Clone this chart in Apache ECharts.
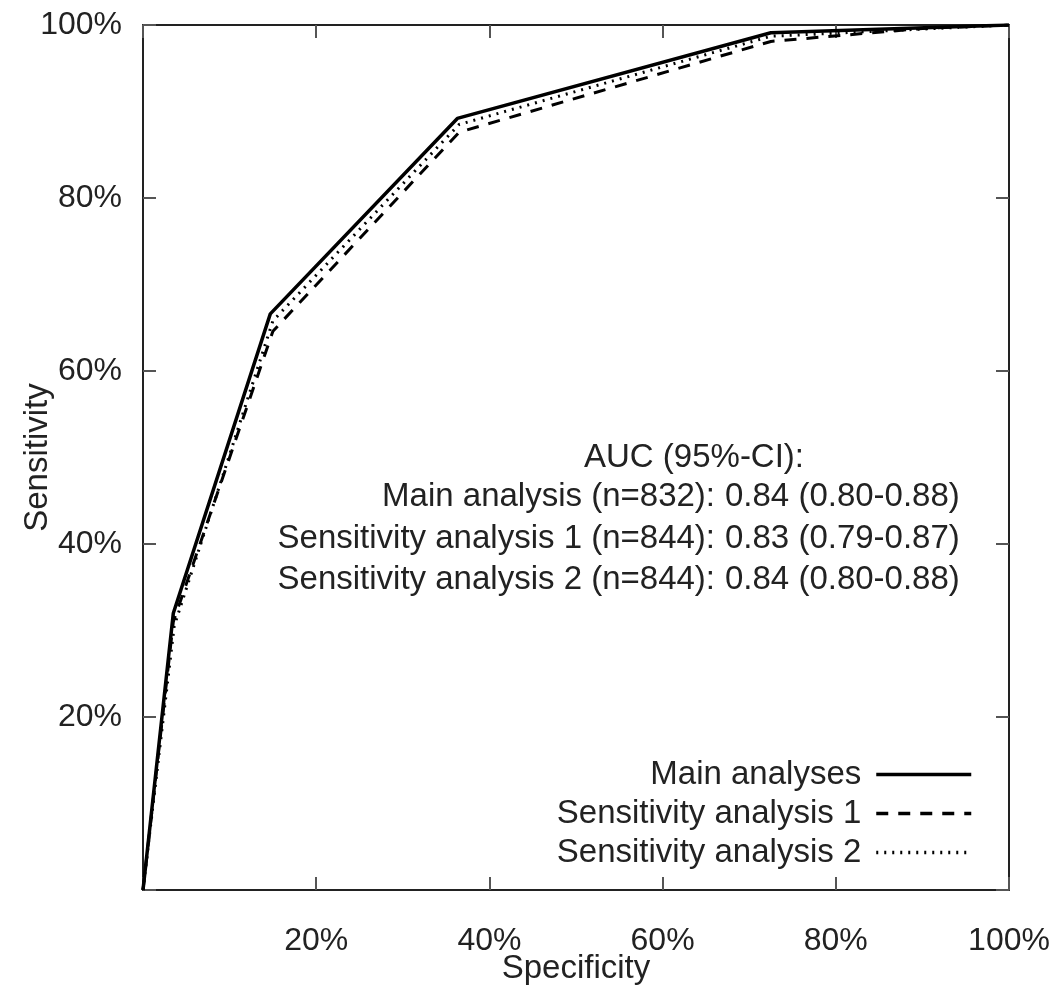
<!DOCTYPE html>
<html lang="en">
<head>
  <meta charset="UTF-8">
  <title>ROC</title>
  <style>
    html, body { margin: 0; padding: 0; background: #fff; }
  </style>
</head>
<body>
  <div id="main" style="width: 1053px;height:986px;"></div>
  <script src="https://cdn.jsdelivr.net/npm/echarts@6/dist/echarts.min.js"></script>
  <script type="text/javascript">
    // ROC curves: [specificity %, sensitivity %]
    var seriesNames = ['Main analyses', 'Sensitivity analysis 1', 'Sensitivity analysis 2'];
    var mainData = [[0, 0], [3.5, 32], [14.7, 66.6], [36.3, 89.2], [72.5, 99.1], [100, 100]];
    var sens1Data = [[0, 0], [3.5, 31], [15, 64.6], [36.5, 87.6], [72.5, 98.1], [90, 99.6], [100, 100]];
    var sens2Data = [[0, 0], [3.6, 30.5], [15, 65.8], [36.5, 88.5], [72.5, 98.7], [100, 100]];

    var aucHeader = 'AUC (95%-CI):';
    var aucLabels = ['Main analysis (n=832):', 'Sensitivity analysis 1 (n=844):', 'Sensitivity analysis 2 (n=844):'];
    var aucValues = ['0.84 (0.80-0.88)', '0.83 (0.79-0.87)', '0.84 (0.80-0.88)'];

    var font = 'Liberation Sans';
    var txtColor = '#222';
    var fs = 33;   // legend, names, AUC block
    var tfs = 32;  // tick labels

    var myChart = echarts.init(document.getElementById('main'));

    function pct(v) {
      return v === 0 ? '' : v + '%';
    }

    function frameAxis() {
      return { onZero: false, lineStyle: { color: '#222', width: 2 } };
    }
    function tickStyle() {
      return { inside: true, length: 13, lineStyle: { color: '#555', width: 2 } };
    }

    var graphics = [{
      type: 'text',
      x: 584, y: 458,
      style: { text: aucHeader, font: fs + 'px ' + font, fill: txtColor, align: 'left', verticalAlign: 'middle' }
    }];
    var rowY = [497, 539, 580];
    aucLabels.forEach(function (s, i) {
      graphics.push({
        type: 'text',
        x: 715, y: rowY[i],
        style: { text: s, font: fs + 'px ' + font, fill: txtColor, align: 'right', verticalAlign: 'middle' }
      });
      graphics.push({
        type: 'text',
        x: 725, y: rowY[i],
        style: { text: aucValues[i], font: fs + 'px ' + font, fill: txtColor, align: 'left', verticalAlign: 'middle' }
      });
    });

    var option = {
      animation: false,
      backgroundColor: '#fff',
      textStyle: { fontFamily: font },
      grid: { left: 143, right: 44, top: 25, bottom: 96, outerBoundsMode: 'none' },
      legend: {
        orient: 'vertical',
        right: 75,
        top: 753,
        align: 'right',
        itemWidth: 95,
        itemHeight: 14,
        itemGap: 6,
        data: seriesNames,
        itemStyle: { color: 'rgba(0,0,0,0)', borderWidth: 0 },
        lineStyle: { width: 3.5 },
        textStyle: { fontSize: fs, color: txtColor, fontFamily: font, padding: [0, 10, 0, 0] }
      },
      xAxis: [{
        type: 'value', min: 0, max: 100, interval: 20,
        name: 'Specificity', nameLocation: 'middle', nameGap: 62, nameMoveOverlap: false,
        nameTextStyle: { fontSize: fs, color: txtColor, fontFamily: font },
        axisLine: frameAxis(),
        axisTick: tickStyle(),
        splitLine: { show: false },
        axisLabel: { formatter: pct, fontSize: tfs, color: txtColor, fontFamily: font, margin: 35 }
      }, {
        type: 'value', min: 0, max: 100, interval: 20, position: 'top',
        axisLine: frameAxis(),
        axisTick: tickStyle(),
        splitLine: { show: false },
        axisLabel: { show: false }
      }],
      yAxis: [{
        type: 'value', min: 0, max: 100, interval: 20,
        name: 'Sensitivity', nameLocation: 'middle', nameGap: 89, nameMoveOverlap: false,
        nameTextStyle: { fontSize: fs, color: txtColor, fontFamily: font },
        axisLine: frameAxis(),
        axisTick: tickStyle(),
        splitLine: { show: false },
        axisLabel: { formatter: pct, fontSize: tfs, color: txtColor, fontFamily: font, margin: 21 }
      }, {
        type: 'value', min: 0, max: 100, interval: 20, position: 'right',
        axisLine: frameAxis(),
        axisTick: tickStyle(),
        splitLine: { show: false },
        axisLabel: { show: false }
      }],
      series: [{
        name: seriesNames[1],
        type: 'line',
        data: sens1Data,
        symbol: 'none',
        z: 2,
        lineStyle: { color: '#000', width: 3, type: [12, 10] },
        itemStyle: { color: '#000' }
      }, {
        name: seriesNames[2],
        type: 'line',
        data: sens2Data,
        symbol: 'none',
        z: 3,
        lineStyle: { color: '#000', width: 3, type: [2, 6] },
        itemStyle: { color: '#000' }
      }, {
        name: seriesNames[0],
        type: 'line',
        data: mainData,
        symbol: 'none',
        z: 4,
        lineStyle: { color: '#000', width: 3.5, type: 'solid' },
        itemStyle: { color: '#000' }
      }],
      graphic: graphics
    };

    myChart.setOption(option);
  </script>
</body>
</html>
